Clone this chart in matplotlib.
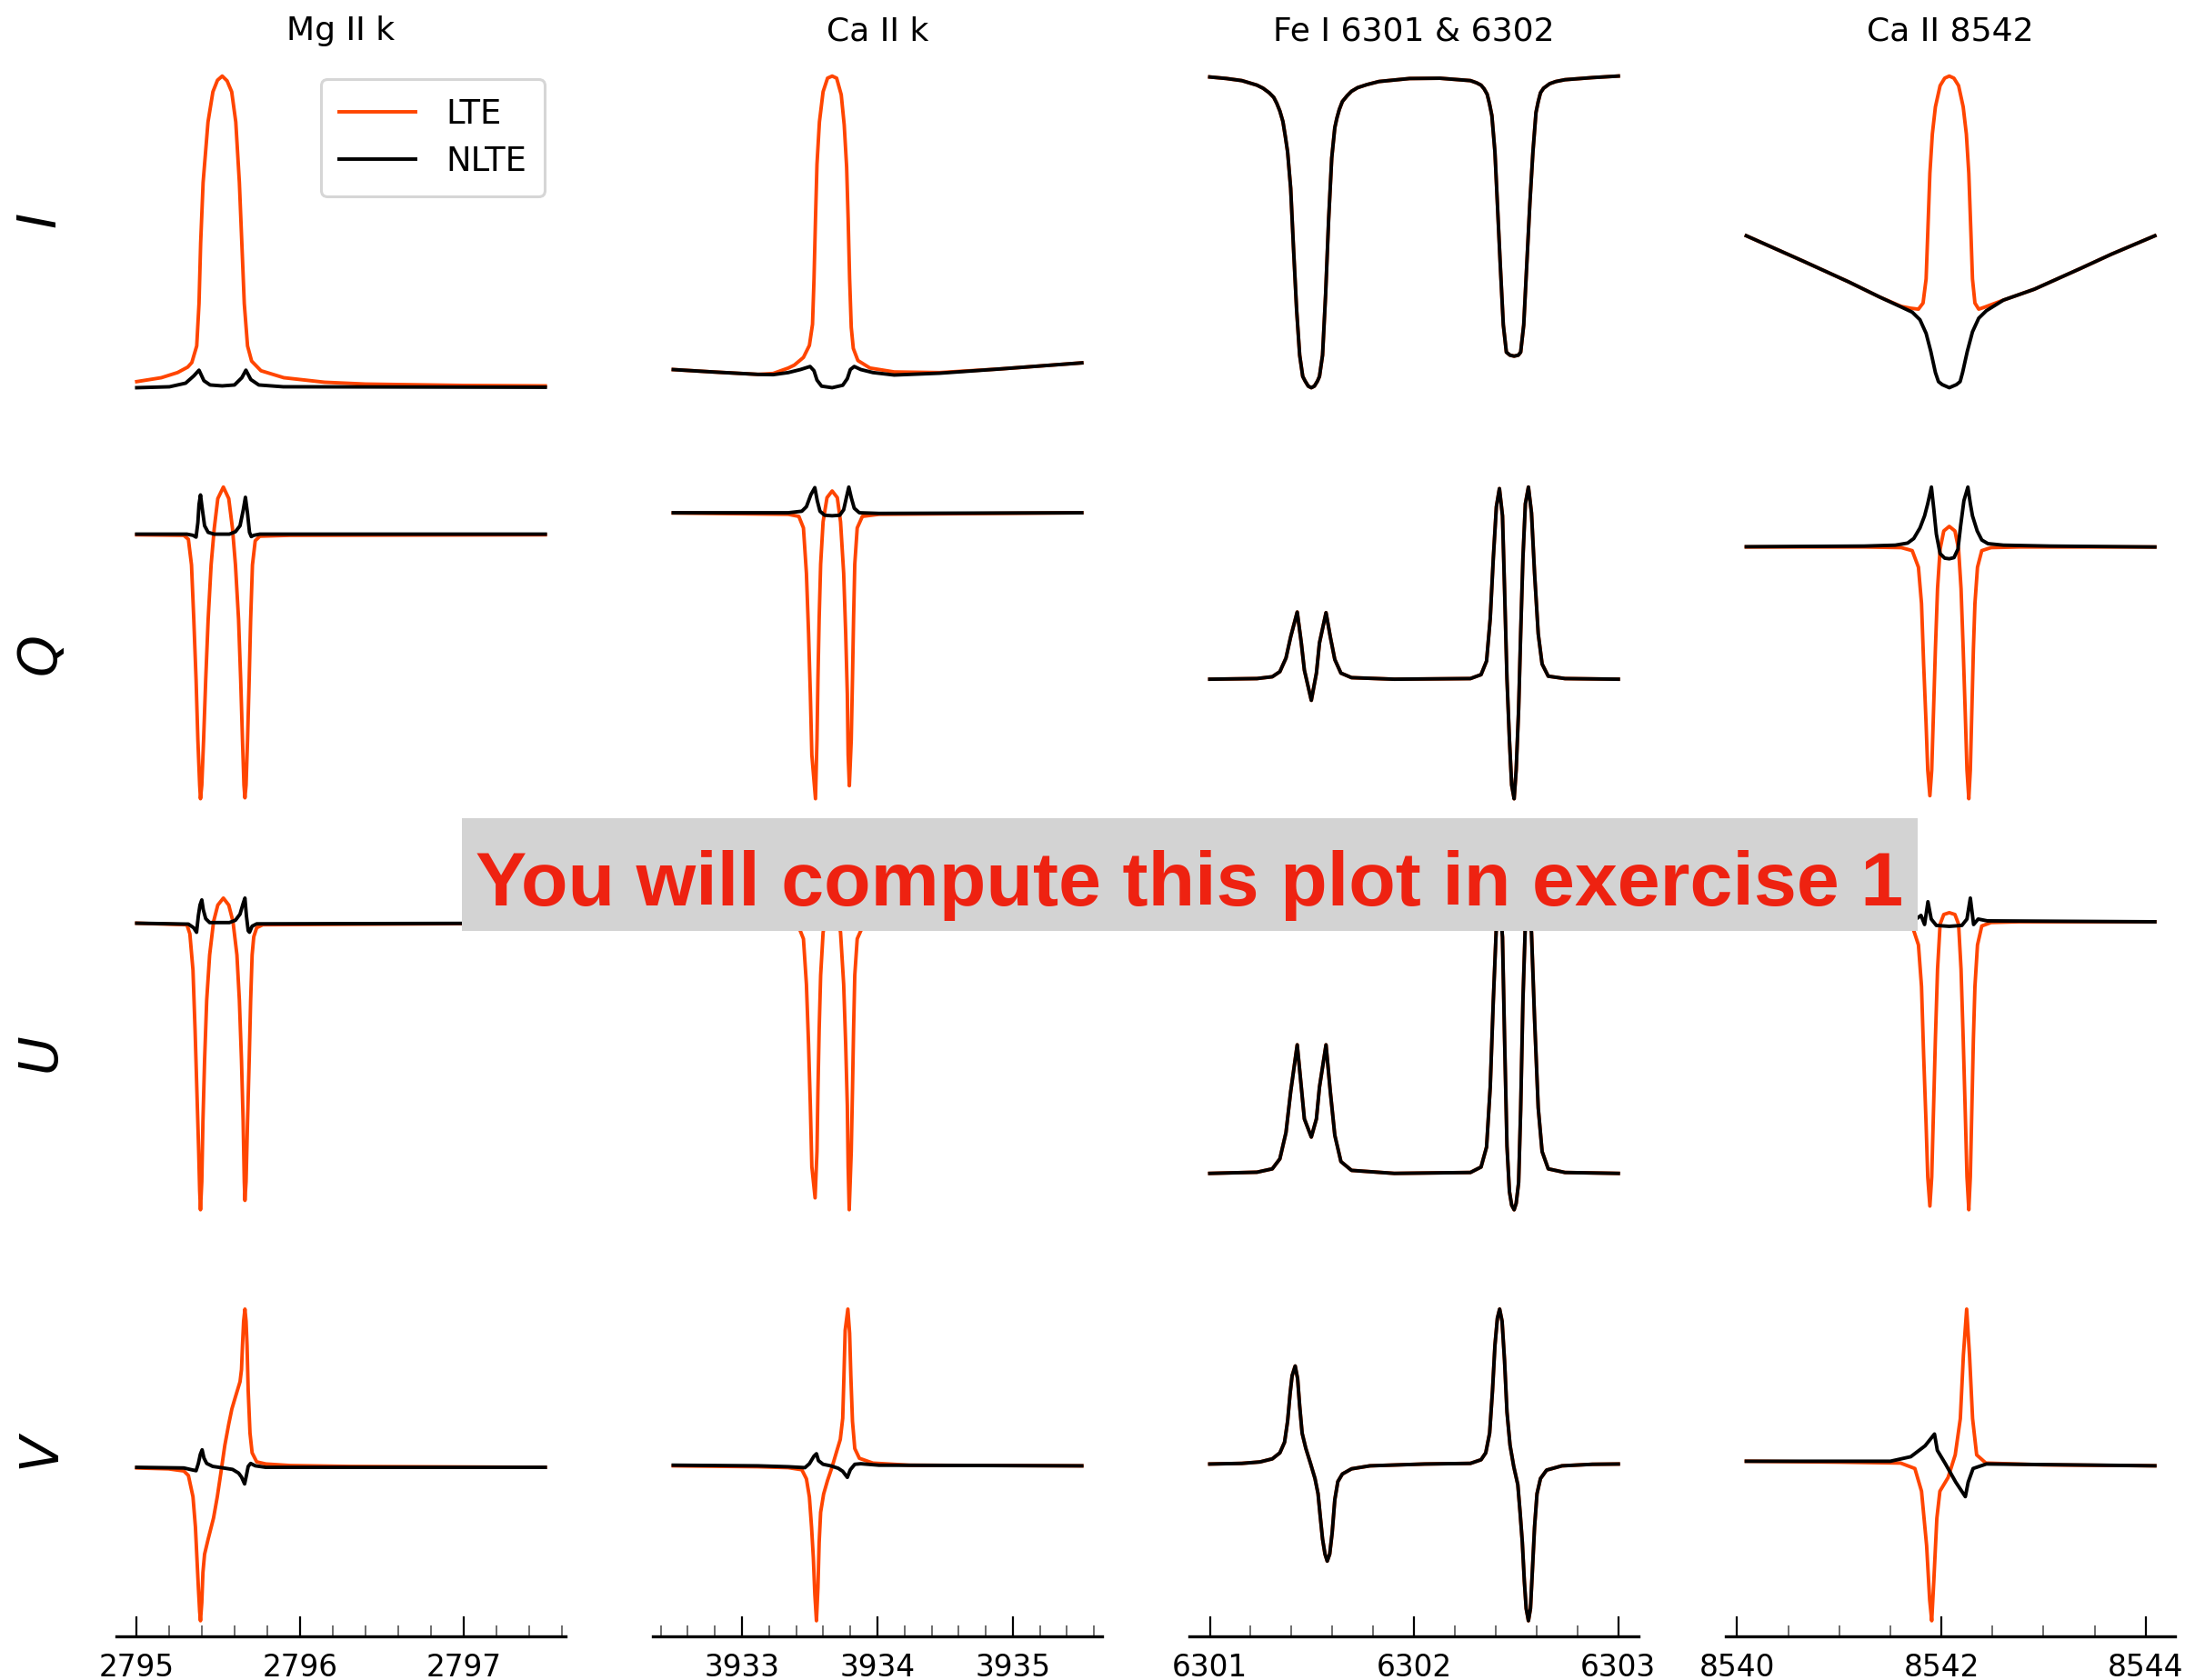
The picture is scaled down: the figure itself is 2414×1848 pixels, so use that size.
import matplotlib
matplotlib.use("Agg")
import matplotlib.pyplot as plt
from matplotlib.ticker import MultipleLocator, AutoMinorLocator, FormatStrFormatter
from matplotlib.patches import Rectangle

# ---------------- Mg II k ----------------
mg_I_lte_wl = [2795.000, 2795.150, 2795.250, 2795.312, 2795.337, 2795.367, 2795.381, 2795.391, 2795.406,
               2795.436, 2795.466, 2795.494, 2795.523, 2795.553, 2795.581, 2795.606, 2795.628, 2795.643,
               2795.658, 2795.678, 2795.703, 2795.760, 2795.900, 2796.150, 2796.400, 2797.000, 2797.500]
mg_I_lte = [0.237, 0.280, 0.337, 0.397, 0.447, 0.630, 1.097, 1.763, 2.430, 3.097, 3.430, 3.557, 3.603,
            3.550, 3.430, 3.097, 2.430, 1.763, 1.097, 0.630, 0.463, 0.357, 0.280, 0.230, 0.210, 0.195, 0.190]
mg_I_nlte_wl = [2795.000, 2795.200, 2795.299, 2795.349, 2795.381, 2795.411, 2795.449, 2795.523, 2795.598,
                2795.643, 2795.668, 2795.698, 2795.747, 2795.897, 2797.500]
mg_I_nlte = [0.170, 0.180, 0.220, 0.300, 0.363, 0.247, 0.200, 0.190, 0.200, 0.280, 0.363, 0.260, 0.200,
             0.180, 0.175]

mg_Q_lte_wl = [2795.000, 2795.288, 2795.316, 2795.335, 2795.349, 2795.363, 2795.374, 2795.385, 2795.390,
               2795.398, 2795.409, 2795.422, 2795.437, 2795.455, 2795.474, 2795.496, 2795.530, 2795.563,
               2795.586, 2795.604, 2795.623, 2795.636, 2795.647, 2795.656, 2795.662, 2795.669, 2795.678,
               2795.688, 2795.697, 2795.708, 2795.725, 2795.753, 2795.939, 2797.500]
mg_Q_lte = [-0.007, -0.013, -0.057, -0.340, -0.940, -1.607, -2.273, -2.773, -2.923, -2.773, -2.273, -1.607,
            -0.940, -0.340, 0.060, 0.393, 0.520, 0.393, 0.060, -0.340, -0.940, -1.607, -2.273, -2.773,
            -2.913, -2.773, -2.273, -1.607, -0.940, -0.340, -0.073, -0.023, -0.013, -0.007]
mg_Q_nlte_wl = [2795.000, 2795.307, 2795.344, 2795.363, 2795.374, 2795.381, 2795.390, 2795.400, 2795.415,
                2795.437, 2795.474, 2795.567, 2795.604, 2795.632, 2795.651, 2795.665, 2795.678, 2795.690,
                2795.701, 2795.716, 2795.753, 2797.500]
mg_Q_nlte = [0.0, 0.0, -0.013, -0.033, 0.127, 0.327, 0.433, 0.293, 0.093, 0.020, 0.0, 0.0, 0.027, 0.093,
             0.260, 0.407, 0.227, 0.020, -0.027, -0.013, 0.0, 0.0]

mg_U_lte_wl = [2795.000, 2795.307, 2795.325, 2795.344, 2795.357, 2795.368, 2795.379, 2795.385, 2795.390,
               2795.398, 2795.405, 2795.415, 2795.428, 2795.446, 2795.470, 2795.496, 2795.530, 2795.563,
               2795.589, 2795.613, 2795.628, 2795.641, 2795.651, 2795.658, 2795.662, 2795.669, 2795.678,
               2795.688, 2795.697, 2795.706, 2795.716, 2795.734, 2795.771, 2797.500]
mg_U_lte = [0.0, -0.017, -0.117, -0.517, -1.183, -1.850, -2.517, -2.950, -3.160, -2.850, -2.183, -1.517,
            -0.850, -0.350, 0.017, 0.200, 0.277, 0.200, 0.017, -0.350, -0.850, -1.517, -2.183, -2.850,
            -3.057, -2.850, -2.183, -1.517, -0.850, -0.350, -0.150, -0.050, -0.017, 0.0]
mg_U_nlte_wl = [2795.000, 2795.316, 2795.348, 2795.366, 2795.377, 2795.387, 2795.398, 2795.407, 2795.422,
                2795.446, 2795.567, 2795.604, 2795.632, 2795.651, 2795.662, 2795.671, 2795.682, 2795.690,
                2795.706, 2795.734, 2797.500]
mg_U_nlte = [0.0, -0.010, -0.050, -0.100, 0.083, 0.200, 0.257, 0.150, 0.050, 0.007, 0.007, 0.033, 0.100,
             0.217, 0.277, 0.083, -0.083, -0.100, -0.033, -0.007, 0.0]

mg_V_lte_wl = [2795.000, 2795.195, 2795.288, 2795.316, 2795.344, 2795.359, 2795.368, 2795.377, 2795.385,
               2795.390, 2795.398, 2795.405, 2795.415, 2795.437, 2795.470, 2795.493, 2795.515, 2795.539,
               2795.563, 2795.582, 2795.604, 2795.632, 2795.641, 2795.647, 2795.654, 2795.662, 2795.669,
               2795.675, 2795.682, 2795.693, 2795.706, 2795.734, 2795.790, 2795.939, 2796.310, 2797.500]
mg_V_lte = [-0.007, -0.017, -0.040, -0.090, -0.323, -0.657, -0.990, -1.323, -1.590, -1.690, -1.490, -1.157,
            -0.957, -0.790, -0.557, -0.323, -0.057, 0.243, 0.477, 0.643, 0.777, 0.943, 1.077, 1.343, 1.610,
            1.743, 1.610, 1.343, 0.843, 0.377, 0.160, 0.060, 0.037, 0.020, 0.010, 0.0]
mg_V_nlte_wl = [2795.000, 2795.288, 2795.344, 2795.363, 2795.377, 2795.389, 2795.400, 2795.411, 2795.428,
                2795.465, 2795.530, 2795.586, 2795.623, 2795.641, 2795.660, 2795.671, 2795.682, 2795.697,
                2795.725, 2795.790, 2797.500]
mg_V_nlte = [0.0, -0.007, -0.030, -0.037, 0.043, 0.143, 0.193, 0.103, 0.043, 0.010, -0.007, -0.023, -0.063,
             -0.107, -0.183, -0.090, 0.010, 0.043, 0.017, 0.0, 0.0]

# ---------------- Ca II k ----------------
ca_I_lte_wl = [3932.493, 3932.783, 3933.118, 3933.230, 3933.342, 3933.387, 3933.454, 3933.498, 3933.521,
               3933.532, 3933.543, 3933.554, 3933.572, 3933.599, 3933.632, 3933.666, 3933.699, 3933.733,
               3933.755, 3933.773, 3933.784, 3933.795, 3933.807, 3933.822, 3933.856, 3933.945, 3934.124,
               3934.459, 3934.906, 3935.509]
ca_I_lte = [0.363, 0.337, 0.310, 0.320, 0.380, 0.413, 0.497, 0.630, 0.863, 1.363, 2.030, 2.630, 3.097,
            3.430, 3.580, 3.603, 3.580, 3.397, 3.063, 2.597, 2.030, 1.363, 0.830, 0.597, 0.463, 0.380,
            0.337, 0.330, 0.370, 0.437]
ca_I_nlte_wl = [3932.493, 3932.783, 3933.118, 3933.230, 3933.342, 3933.431, 3933.503, 3933.532, 3933.554,
                3933.588, 3933.666, 3933.744, 3933.778, 3933.800, 3933.829, 3933.878, 3933.967, 3934.124,
                3934.459, 3934.906, 3935.509]
ca_I_nlte = [0.363, 0.337, 0.310, 0.307, 0.330, 0.363, 0.397, 0.350, 0.247, 0.180, 0.163, 0.190, 0.263,
             0.363, 0.397, 0.363, 0.330, 0.303, 0.323, 0.370, 0.437]

ca_Q_lte_wl = [3932.493, 3933.342, 3933.420, 3933.454, 3933.476, 3933.492, 3933.505, 3933.516, 3933.543,
               3933.554, 3933.561, 3933.570, 3933.581, 3933.599, 3933.628, 3933.666, 3933.704, 3933.728,
               3933.751, 3933.766, 3933.778, 3933.784, 3933.793, 3933.807, 3933.816, 3933.824, 3933.833,
               3933.851, 3933.889, 3934.012, 3935.509]
ca_Q_lte = [-0.003, -0.017, -0.040, -0.167, -0.667, -1.333, -2.000, -2.667, -3.150, -2.500, -1.833, -1.167,
            -0.567, -0.100, 0.167, 0.240, 0.167, -0.100, -0.667, -1.333, -2.000, -2.667, -3.007, -2.500,
            -1.833, -1.167, -0.567, -0.167, -0.040, -0.017, 0.0]
ca_Q_nlte_wl = [3932.493, 3933.342, 3933.442, 3933.476, 3933.509, 3933.538, 3933.556, 3933.576, 3933.610,
                3933.666, 3933.722, 3933.751, 3933.771, 3933.789, 3933.807, 3933.829, 3933.867, 3934.012,
                3935.509]
ca_Q_nlte = [0.0, 0.0, 0.017, 0.067, 0.200, 0.277, 0.133, 0.017, -0.027, -0.033, -0.027, 0.033, 0.167,
             0.283, 0.167, 0.050, 0.0, -0.007, 0.0]

ca_U_lte_wl = [3932.493, 3933.342, 3933.420, 3933.454, 3933.476, 3933.492, 3933.505, 3933.516, 3933.540,
               3933.554, 3933.561, 3933.570, 3933.581, 3933.599, 3933.628, 3933.666, 3933.704, 3933.728,
               3933.751, 3933.766, 3933.778, 3933.784, 3933.792, 3933.807, 3933.816, 3933.824, 3933.833,
               3933.851, 3933.889, 3934.012, 3935.509]
ca_U_lte = [0.0, -0.017, -0.040, -0.167, -0.667, -1.333, -2.000, -2.667, -3.010, -2.500, -1.833, -1.167,
            -0.567, -0.100, 0.167, 0.250, 0.167, -0.100, -0.667, -1.333, -2.000, -2.667, -3.140, -2.500,
            -1.833, -1.167, -0.567, -0.167, -0.040, -0.017, 0.0]
ca_U_nlte_wl = [3932.493, 3933.342, 3933.442, 3933.476, 3933.509, 3933.538, 3933.556, 3933.576, 3933.610,
                3933.666, 3933.722, 3933.751, 3933.771, 3933.789, 3933.807, 3933.829, 3933.867, 3934.012,
                3935.509]
ca_U_nlte = [0.0, 0.0, 0.017, 0.067, 0.200, 0.270, 0.133, 0.017, -0.027, -0.033, -0.027, 0.033, 0.167,
             0.280, 0.167, 0.050, 0.0, -0.007, 0.0]

ca_V_lte_wl = [3932.493, 3933.118, 3933.342, 3933.442, 3933.476, 3933.498, 3933.514, 3933.527, 3933.538,
               3933.550, 3933.561, 3933.570, 3933.581, 3933.603, 3933.632, 3933.666, 3933.699, 3933.726,
               3933.744, 3933.753, 3933.762, 3933.782, 3933.795, 3933.804, 3933.816, 3933.833, 3933.867,
               3933.967, 3934.236, 3935.509]
ca_V_lte = [0.0, -0.010, -0.020, -0.043, -0.143, -0.343, -0.677, -1.010, -1.410, -1.703, -1.343, -0.843,
            -0.510, -0.310, -0.160, -0.010, 0.157, 0.290, 0.523, 0.990, 1.490, 1.723, 1.457, 0.990, 0.490,
            0.190, 0.083, 0.030, 0.007, 0.0]
ca_V_nlte_wl = [3932.493, 3933.118, 3933.342, 3933.465, 3933.498, 3933.532, 3933.550, 3933.565, 3933.599,
                3933.655, 3933.711, 3933.744, 3933.778, 3933.800, 3933.833, 3933.878, 3934.012, 3935.509]
ca_V_nlte = [0.007, 0.0, -0.010, -0.020, 0.023, 0.107, 0.133, 0.057, 0.017, 0.0, -0.027, -0.060, -0.127,
             -0.043, 0.017, 0.023, 0.007, 0.0]

# ---------------- Fe I 6301 & 6302 (LTE and NLTE coincide) ----------------
fe_I_wl = [6301.000, 6301.082, 6301.157, 6301.231, 6301.261, 6301.291, 6301.313, 6301.328, 6301.343,
           6301.358, 6301.370, 6301.381, 6301.396, 6301.410, 6301.425, 6301.440, 6301.455, 6301.467,
           6301.482, 6301.497, 6301.512, 6301.527, 6301.537, 6301.552, 6301.567, 6301.582, 6301.597,
           6301.612, 6301.622, 6301.634, 6301.649, 6301.672, 6301.694, 6301.724, 6301.769, 6301.828,
           6301.978, 6302.127, 6302.276, 6302.306, 6302.328, 6302.343, 6302.358, 6302.369, 6302.381,
           6302.396, 6302.408, 6302.422, 6302.437, 6302.452, 6302.470, 6302.490, 6302.510, 6302.522,
           6302.537, 6302.552, 6302.567, 6302.582, 6302.597, 6302.608, 6302.619, 6302.634, 6302.664,
           6302.694, 6302.739, 6302.873, 6303.000]
fe_I = [3.587, 3.570, 3.547, 3.497, 3.463, 3.413, 3.363, 3.297, 3.213, 3.097, 2.930, 2.763, 2.363, 1.697,
        1.030, 0.530, 0.297, 0.245, 0.190, 0.173, 0.190, 0.245, 0.297, 0.530, 1.197, 2.030, 2.697, 3.030,
        3.133, 3.230, 3.317, 3.380, 3.430, 3.470, 3.503, 3.537, 3.570, 3.573, 3.547, 3.523, 3.497, 3.457,
        3.397, 3.297, 3.163, 2.763, 2.197, 1.530, 0.863, 0.563, 0.530, 0.520, 0.530, 0.563, 0.863, 1.530,
        2.197, 2.763, 3.197, 3.317, 3.413, 3.463, 3.513, 3.537, 3.557, 3.580, 3.597]

fe_QU_wl = [6301.000, 6301.231, 6301.306, 6301.343, 6301.373, 6301.396, 6301.428, 6301.448, 6301.463,
            6301.497, 6301.522, 6301.537, 6301.569, 6301.590, 6301.612, 6301.642, 6301.694, 6301.903,
            6302.276, 6302.328, 6302.355, 6302.373, 6302.388, 6302.403, 6302.418, 6302.433, 6302.443,
            6302.455, 6302.467, 6302.478, 6302.490, 6302.500, 6302.512, 6302.522, 6302.533, 6302.545,
            6302.560, 6302.575, 6302.590, 6302.608, 6302.627, 6302.657, 6302.739, 6303.000]
fe_Q = [0.0, 0.007, 0.027, 0.083, 0.233, 0.467, 0.740, 0.400, 0.100, -0.233, 0.067, 0.400, 0.733, 0.467,
        0.217, 0.067, 0.017, 0.0, 0.007, 0.050, 0.200, 0.667, 1.333, 1.900, 2.100, 1.800, 1.000, 0.0,
        -0.667, -1.167, -1.317, -1.000, -0.333, 0.500, 1.333, 1.933, 2.117, 1.833, 1.167, 0.500, 0.167,
        0.033, 0.007, 0.0]
fe_U = [0.0, 0.013, 0.050, 0.160, 0.450, 0.900, 1.415, 0.950, 0.600, 0.400, 0.600, 0.950, 1.415, 0.900,
        0.420, 0.130, 0.033, 0.0, 0.010, 0.070, 0.290, 0.950, 1.900, 2.720, 3.030, 2.600, 1.500, 0.300,
        -0.200, -0.350, -0.400, -0.330, -0.100, 0.700, 1.900, 2.750, 3.030, 2.650, 1.700, 0.720, 0.240,
        0.050, 0.010, 0.0]

fe_V_wl = [6301.000, 6301.157, 6301.246, 6301.306, 6301.343, 6301.366, 6301.381, 6301.393, 6301.403,
           6301.418, 6301.430, 6301.440, 6301.452, 6301.470, 6301.493, 6301.515, 6301.530, 6301.540,
           6301.552, 6301.564, 6301.575, 6301.587, 6301.599, 6301.612, 6301.627, 6301.649, 6301.694,
           6301.784, 6302.052, 6302.276, 6302.328, 6302.351, 6302.370, 6302.384, 6302.396, 6302.408,
           6302.419, 6302.431, 6302.443, 6302.455, 6302.470, 6302.488, 6302.508, 6302.519, 6302.530,
           6302.540, 6302.549, 6302.560, 6302.570, 6302.579, 6302.590, 6302.602, 6302.619, 6302.649,
           6302.724, 6302.873, 6303.000]
fe_V = [0.0, 0.007, 0.023, 0.057, 0.123, 0.240, 0.473, 0.773, 0.973, 1.080, 0.940, 0.640, 0.340, 0.173,
        0.007, -0.160, -0.327, -0.560, -0.827, -0.993, -1.070, -0.993, -0.760, -0.393, -0.193, -0.110,
        -0.053, -0.020, 0.0, 0.007, 0.047, 0.123, 0.340, 0.807, 1.307, 1.607, 1.707, 1.573, 1.140, 0.573,
        0.207, -0.027, -0.227, -0.527, -0.860, -1.293, -1.593, -1.727, -1.593, -1.193, -0.693, -0.327,
        -0.160, -0.067, -0.020, -0.003, 0.0]

# ---------------- Ca II 8542 ----------------
ir_I_lte_wl = [8540.090, 8540.641, 8541.094, 8541.397, 8541.608, 8541.699, 8541.775, 8541.820, 8541.850,
               8541.866, 8541.887, 8541.911, 8541.941, 8541.987, 8542.032, 8542.077, 8542.122, 8542.168,
               8542.213, 8542.244, 8542.268, 8542.289, 8542.304, 8542.328, 8542.365, 8542.425, 8542.607,
               8542.909, 8543.363, 8543.665, 8544.089]
ir_I_lte = [1.840, 1.563, 1.330, 1.163, 1.060, 1.040, 1.030, 1.097, 1.363, 1.863, 2.530, 2.963, 3.263,
            3.497, 3.580, 3.603, 3.580, 3.497, 3.263, 2.963, 2.530, 1.863, 1.363, 1.097, 1.030, 1.053,
            1.130, 1.250, 1.480, 1.637, 1.840]
ir_I_nlte_wl = [8540.090, 8540.641, 8541.094, 8541.397, 8541.608, 8541.714, 8541.790, 8541.850, 8541.896,
                8541.941, 8541.971, 8542.008, 8542.077, 8542.147, 8542.183, 8542.207, 8542.253, 8542.304,
                8542.365, 8542.440, 8542.607, 8542.909, 8543.363, 8543.665, 8544.089]
ir_I_nlte = [1.840, 1.563, 1.330, 1.163, 1.053, 0.997, 0.913, 0.763, 0.563, 0.330, 0.230, 0.197, 0.163,
             0.197, 0.230, 0.330, 0.563, 0.780, 0.930, 1.013, 1.130, 1.250, 1.480, 1.637, 1.840]

ir_QU_lte_wl = [8540.090, 8541.245, 8541.608, 8541.714, 8541.775, 8541.805, 8541.826, 8541.850, 8541.866,
                8541.887, 8541.905, 8541.923, 8541.941, 8541.962, 8541.987, 8542.023, 8542.077, 8542.132,
                8542.168, 8542.192, 8542.213, 8542.232, 8542.250, 8542.268, 8542.283, 8542.298, 8542.313,
                8542.328, 8542.353, 8542.395, 8542.486, 8542.758, 8544.089]
ir_Q_lte = [0.0, 0.0, -0.007, -0.040, -0.223, -0.623, -1.290, -1.957, -2.457, -2.740, -2.457, -1.790,
            -1.123, -0.457, -0.023, 0.177, 0.227, 0.177, -0.023, -0.457, -1.123, -1.790, -2.457, -2.773,
            -2.457, -1.790, -1.123, -0.623, -0.223, -0.040, -0.007, 0.0, 0.0]
ir_Q_nlte_wl = [8540.090, 8541.245, 8541.548, 8541.669, 8541.729, 8541.790, 8541.835, 8541.866, 8541.902,
                8541.926, 8541.950, 8541.987, 8542.032, 8542.077, 8542.123, 8542.162, 8542.189, 8542.220,
                8542.259, 8542.283, 8542.304, 8542.350, 8542.395, 8542.455, 8542.607, 8543.060, 8544.089]
ir_Q_nlte = [0.003, 0.010, 0.020, 0.043, 0.093, 0.210, 0.343, 0.477, 0.660, 0.410, 0.143, -0.073, -0.123,
             -0.130, -0.117, -0.023, 0.243, 0.510, 0.660, 0.477, 0.343, 0.177, 0.077, 0.037, 0.020, 0.010,
             0.0]

ir_U_lte = [0.0, 0.0, -0.008, -0.046, -0.254, -0.710, -1.470, -2.230, -2.800, -3.120, -2.800, -2.040,
            -1.280, -0.520, -0.026, 0.080, 0.100, 0.080, -0.026, -0.520, -1.280, -2.040, -2.800, -3.160,
            -2.800, -2.040, -1.280, -0.710, -0.254, -0.046, -0.008, 0.0, 0.0]
ir_U_nlte_wl = [8540.090, 8541.500, 8541.740, 8541.800, 8541.835, 8541.868, 8541.900, 8541.950, 8542.077,
                8542.200, 8542.250, 8542.283, 8542.315, 8542.360, 8542.450, 8544.089]
ir_U_nlte = [0.0, 0.0, 0.020, 0.070, -0.030, 0.220, 0.030, -0.040, -0.050, -0.040, 0.030, 0.260, -0.030,
             0.030, 0.010, 0.0]

ir_V_lte_wl = [8540.090, 8541.000, 8541.600, 8541.740, 8541.805, 8541.855, 8541.885, 8541.905, 8541.925,
               8541.955, 8541.985, 8542.065, 8542.135, 8542.185, 8542.215, 8542.247, 8542.275, 8542.305,
               8542.345, 8542.435, 8543.000, 8544.089]
ir_V_lte = [0.030, 0.020, 0.010, -0.050, -0.300, -0.900, -1.500, -1.727, -1.300, -0.600, -0.300, -0.150,
            0.100, 0.500, 1.200, 1.706, 1.200, 0.500, 0.100, 0.010, -0.010, -0.020]
ir_V_nlte_wl = [8540.090, 8541.500, 8541.700, 8541.840, 8541.932, 8541.960, 8542.040, 8542.140, 8542.234,
                8542.262, 8542.310, 8542.440, 8544.089]
ir_V_nlte = [0.030, 0.030, 0.080, 0.200, 0.330, 0.150, 0.0, -0.200, -0.360, -0.200, -0.050, 0.0, -0.020]

titles = ["Mg II k", "Ca II k", "Fe I 6301 & 6302", "Ca II 8542"]
stokes = ["I", "Q", "U", "V"]
major_step = [1, 1, 1, 2]

# rows: I, Q, U, V ; columns: Mg II k, Ca II k, Fe I, Ca II 8542
panels = [
    [(mg_I_lte_wl, mg_I_lte, mg_I_nlte_wl, mg_I_nlte),
     (ca_I_lte_wl, ca_I_lte, ca_I_nlte_wl, ca_I_nlte),
     (fe_I_wl, fe_I, fe_I_wl, fe_I),
     (ir_I_lte_wl, ir_I_lte, ir_I_nlte_wl, ir_I_nlte)],
    [(mg_Q_lte_wl, mg_Q_lte, mg_Q_nlte_wl, mg_Q_nlte),
     (ca_Q_lte_wl, ca_Q_lte, ca_Q_nlte_wl, ca_Q_nlte),
     (fe_QU_wl, fe_Q, fe_QU_wl, fe_Q),
     (ir_QU_lte_wl, ir_Q_lte, ir_Q_nlte_wl, ir_Q_nlte)],
    [(mg_U_lte_wl, mg_U_lte, mg_U_nlte_wl, mg_U_nlte),
     (ca_U_lte_wl, ca_U_lte, ca_U_nlte_wl, ca_U_nlte),
     (fe_QU_wl, fe_U, fe_QU_wl, fe_U),
     (ir_QU_lte_wl, ir_U_lte, ir_U_nlte_wl, ir_U_nlte)],
    [(mg_V_lte_wl, mg_V_lte, mg_V_nlte_wl, mg_V_nlte),
     (ca_V_lte_wl, ca_V_lte, ca_V_nlte_wl, ca_V_nlte),
     (fe_V_wl, fe_V, fe_V_wl, fe_V),
     (ir_V_lte_wl, ir_V_lte, ir_V_nlte_wl, ir_V_nlte)],
]

plt.rcParams['font.family'] = ['DejaVu Sans']

W, H = 2414, 1848
fig = plt.figure(figsize=(W / 200, H / 200), dpi=200)
gs = fig.add_gridspec(4, 4, left=0.053, right=0.991, bottom=0.026, top=0.964,
                      wspace=0.194, hspace=0.199)

for r in range(4):
    for c in range(4):
        ax = fig.add_subplot(gs[r, c])
        lwl, lte, nwl, nlte = panels[r][c]
        ax.plot(lwl, lte, color='#ff4500', lw=1.4, label='LTE')
        ax.plot(nwl, nlte, color='black', lw=1.4, label='NLTE')
        for s in ['top', 'right', 'left']:
            ax.spines[s].set_visible(False)
        ax.set_yticks([])
        if r == 3:
            ax.spines['bottom'].set_linewidth(1.2)
            ax.xaxis.set_major_locator(MultipleLocator(major_step[c]))
            ax.xaxis.set_minor_locator(AutoMinorLocator())
            ax.xaxis.set_major_formatter(FormatStrFormatter('%d'))
            ax.tick_params(axis='x', which='major', direction='in', length=8, width=0.8,
                           labelsize=11.8, pad=6.5)
            ax.tick_params(axis='x', which='minor', direction='in', length=4.5, width=0.6,
                           color='#555555')
        else:
            ax.spines['bottom'].set_visible(False)
            ax.set_xticks([])
        if r == 0:
            ax.set_title(titles[c], fontsize=13, pad=8)
        if r == 0 and c == 0:
            leg = ax.legend(loc='upper left', bbox_to_anchor=(0.455, 0.947), borderaxespad=0,
                            fontsize=13.3, handlelength=2.27, handletextpad=0.9, labelspacing=0.4,
                            borderpad=0.55, fancybox=True, framealpha=1)
            leg.get_frame().set_edgecolor('#d6d6d6')
            leg.get_frame().set_linewidth(1.1)

# Stokes labels on the left
row_centers = [241, 719, 1158, 1595]
for lab, yc in zip(stokes, row_centers):
    fig.text(44 / W, 1 - yc / H, lab, rotation=90, fontsize=21, style='italic',
             ha='center', va='center')

# overlay banner
fig.add_artist(Rectangle((508 / W, 1 - 1024 / H), 1601 / W, 124 / H, transform=fig.transFigure,
                         facecolor='#d3d3d3', edgecolor='none', zorder=10))
fig.text(1308 / W, 1 - 996 / H, 'You will compute this plot in exercise 1', color='#ee2211',
         fontsize=30.4, fontweight='bold', family='Liberation Sans', ha='center', va='baseline',
         zorder=11)

fig.savefig('out.png', dpi=200)
